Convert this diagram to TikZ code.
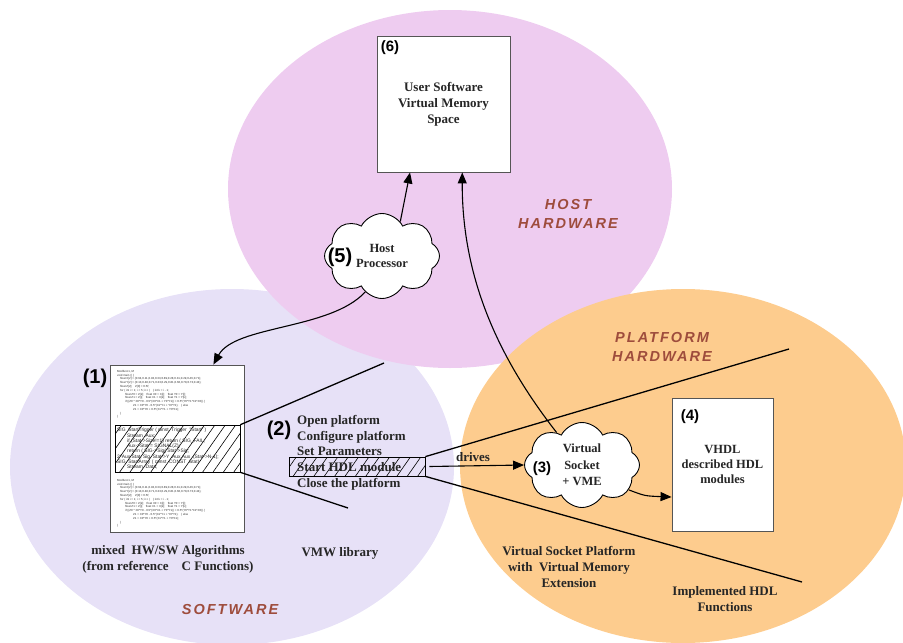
\documentclass[tikz,border=0pt]{standalone}
\usepackage{fontspec}
\setmainfont{Liberation Serif}
\newfontfamily\hv{Liberation Sans}
\newfontfamily\regfont[LetterSpace=14]{Liberation Sans}
\usetikzlibrary{shapes.symbols,patterns.meta,arrows.meta,calc}
\definecolor{swcol}{RGB}{231,225,247}
\definecolor{hostcol}{RGB}{238,204,240}
\definecolor{platcol}{RGB}{253,204,142}
\definecolor{lblcol}{RGB}{158,76,60}
\definecolor{boxline}{RGB}{85,85,85}
\begin{document}
\begin{tikzpicture}[x=1pt,y=-1pt,
  region/.style={font=\regfont\bfseries\itshape\fontsize{14.5}{19}\selectfont, text=lblcol, align=center, inner sep=0},
  lbl/.style={font=\bfseries\fontsize{13}{16}\selectfont, text=black!85, align=center},
  listtxt/.style={font=\bfseries\fontsize{13}{16}\selectfont, text=black!85, anchor=base west, inner sep=0},
  num/.style={font=\hv\bfseries\fontsize{15}{18}\selectfont, inner sep=0},
  numbig/.style={font=\hv\bfseries\fontsize{20}{22}\selectfont, inner sep=0},
  panel/.style={draw=boxline, fill=white, line width=0.9pt, inner sep=0},
  cloudnode/.style={cloud, cloud puffs=8, cloud puff arc=125, aspect=1.4, draw, fill=white, line width=0.9pt, inner sep=0, minimum width=115pt, minimum height=85pt},
  hatch/.style={draw, line width=0.8pt, inner sep=0, pattern={Lines[angle=55,distance=8.5pt,line width=0.6pt]}},
  arr/.style={-{Triangle[length=11pt,width=9pt]}, line width=1.1pt},
  conn/.style={line width=1.3pt},
  code/.style={font=\hv\fontsize{2.9}{3.8}\selectfont, align=left, anchor=north west, inner sep=0, text=black!80},
  codeb/.style={font=\hv\fontsize{4.9}{5.25}\selectfont, align=left, anchor=north west, inner sep=0, text=black!85}
]
\useasboundingbox (0,0) rectangle (903,643);
\begin{scope}
\clip (0,0) rectangle (903,643);
\fill[swcol] (232,467) ellipse [x radius=222pt, y radius=178pt];
\fill[hostcol] (450,189) ellipse [x radius=222pt, y radius=179pt];
\fill[platcol] (683,466) ellipse [x radius=223pt, y radius=177pt];
\end{scope}

% region labels
\node[region] (rhost) at (568,214) {HOST\\HARDWARE};
\node[region] (rplat) at (662,347) {PLATFORM\\HARDWARE};
\node[region] (rsw) at (230,610) {SOFTWARE};

% box 6
\node[panel, lbl, minimum width=133pt, minimum height=136pt] (b6) at (443.5,104) {User Software\\Virtual Memory\\Space};
\node[num] (n6) at (390,48) {(6)};

% cloud 5
\node[cloudnode, lbl, font=\bfseries\fontsize{12.5}{15}\selectfont] (c5) at (382,256) {Host\\Processor};
\node[numbig] (n5) at (340,257) {(5)};

% box 1
\node[panel, minimum width=134pt, minimum height=167pt] (b1) at (177,448.5) {};
\node[hatch, minimum width=125pt, minimum height=47pt] (hb1) at (177.5,448.5) {};
\node[code] (code1) at (117,370) {Modfunc1, M\\void main () \{\\
\hspace*{3pt}float X[2] = \{0.64,0.11,0.93,0.33,0.89,0.28,0.31,0.29,0.46,0.71\};\\
\hspace*{3pt}float Y[2] = \{0.13,0.48,0.71,0.33,0.29,0.81,0.66,0.78,0.73,0.44\};\\
\hspace*{3pt}float Z[2];\quad Z[0] = 0.5f;\\
\hspace*{3pt}for ( int i = 1;\ i < 5;\ i++ )\quad \{ int k = i - 1;\\
\hspace*{8pt}float Z0 = Z[k];\quad float X0 = X[i];\quad float Y0 = Y[i];\\
\hspace*{8pt}float Z1 = Z[i];\quad float X1 = X[k];\quad float Y1 = Y[k];\\
\hspace*{8pt}if ((Z0 * X0*Y0 - 0.5*(X0*X1 + Y0*Y1)) > 0.5*(Y0*Y1*X1*X0)) \{\\
\hspace*{16pt}Z1 = X0*Y0 - 0.5*(X1*Y1 + Y0*Y1);\quad \} else\\
\hspace*{16pt}Z1 = X0*Y0 + 0.5*(X1*Y1 + Y0*X1);\\
\hspace*{3pt}\}\\
\}};
\node[codeb] (code2) at (117,428) {SIG\ \ StartTrigger ( pinst\ \ Trigger\ \ "Start" )\\
\hspace*{10pt}Stream\ \ Aux;\\
\hspace*{10pt}if (Stat->Size!=1) return ( SIG\_FAIL;\\
\hspace*{10pt}Aux->Stat = SIGNAL(Z);\\
\hspace*{10pt}return ( SIG->Sig( Stat->Sig;\\
2*Aux Stat, Sig\ \ Stat->Y\ \ Aux Aux\ \ (Stat->N-1);\\
SIG\ \ StartArray ( const\ \ CONST\ \ Stat)\\
\hspace*{10pt}Stream\ \ Data;};
\node[code] (code3) at (117,479) {Modfunc1, M\\void main () \{\\
\hspace*{3pt}float X[2] = \{0.64,0.11,0.93,0.33,0.89,0.28,0.31,0.29,0.46,0.71\};\\
\hspace*{3pt}float Y[2] = \{0.13,0.48,0.71,0.33,0.29,0.81,0.66,0.78,0.73,0.44\};\\
\hspace*{3pt}float Z[2];\quad Z[0] = 0.5f;\\
\hspace*{3pt}for ( int i = 1;\ i < 5;\ i++ )\quad \{ int k = i - 1;\\
\hspace*{8pt}float Z0 = Z[k];\quad float X0 = X[i];\quad float Y0 = Y[i];\\
\hspace*{8pt}float Z1 = Z[i];\quad float X1 = X[k];\quad float Y1 = Y[k];\\
\hspace*{8pt}if ((Z0 * X0*Y0 - 0.5*(X0*X1 + Y0*Y1)) > 0.5*(Y0*Y1*X1*X0)) \{\\
\hspace*{16pt}Z1 = X0*Y0 - 0.5*(X1*Y1 + Y0*Y1);\quad \} else\\
\hspace*{16pt}Z1 = X0*Y0 + 0.5*(X1*Y1 + Y0*X1);\\
\hspace*{3pt}\}\\
\}};
\node[numbig] (n1) at (95,378) {(1)};

% VMW library list
\node[hatch, minimum width=136pt, minimum height=19pt] (hb2) at (357,466.5) {};
\node[listtxt] (l1) at (297,424) {Open platform};
\node[listtxt] (l2) at (297,440) {Configure platform};
\node[listtxt] (l3) at (297,455) {Set Parameters};
\node[listtxt] (l4) at (297,471) {Start HDL module};
\node[listtxt] (l5) at (297,487) {Close the platform};
\node[numbig] (n2) at (279,430) {(2)};

% cloud 3
\node[cloudnode, lbl, font=\bfseries\fontsize{12.5}{16.5}\selectfont] (c3) at (582,465) {Virtual\\Socket\\+ VME};
\node[num] (n3) at (542,469) {(3)};

% box 4
\node[panel, lbl, font=\bfseries\fontsize{12.5}{15}\selectfont, minimum width=101pt, minimum height=133pt] (b4) at (722.5,464.5) {VHDL\\described HDL\\modules};
\node[num] (n4) at (690,417) {(4)};

% bottom labels
\node[lbl] (t1) at (168,559) {mixed\ \ HW/SW Algorithms\\(from reference\quad C Functions)};
\node[lbl] (t2) at (340,553) {VMW library};
\node[lbl] (t3) at (569,567) {Virtual Socket Platform\\with\ \ Virtual Memory\\Extension};
\node[lbl] (t4) at (725,599) {Implemented HDL\\Functions};
\node[lbl, inner sep=0] (tdr) at (473,457) {drives};

% zoom lines
\coordinate (e1a) at (384,363);
\coordinate (e1b) at (348,508);
\coordinate (e2a) at (789,349);
\coordinate (e2b) at (802,582);
\draw[conn] (hb1.north east) -- (e1a);
\draw[conn] (hb1.south east) -- (e1b);
\draw[conn] (hb2.north east) -- (e2a);
\draw[conn] (hb2.south east) -- (e2b);

% arrows
\draw[arr] (c5.62) -- ($(b6.south west)!0.25!(b6.south east)$);
\draw[arr] (c3.128) .. controls (500,360) and (462,280) .. ($(b6.south west)!0.64!(b6.south east)$);
\draw[arr] (c5.245) .. controls (330,330) and (235,325) .. ($(b1.north west)!0.77!(b1.north east)$);
\draw[arr] ([xshift=4pt]hb2.east) -- (c3.west);
\draw[arr] (c3.-28) .. controls (645,496) .. ([yshift=-32.5pt]b4.west);
\end{tikzpicture}
\end{document}
